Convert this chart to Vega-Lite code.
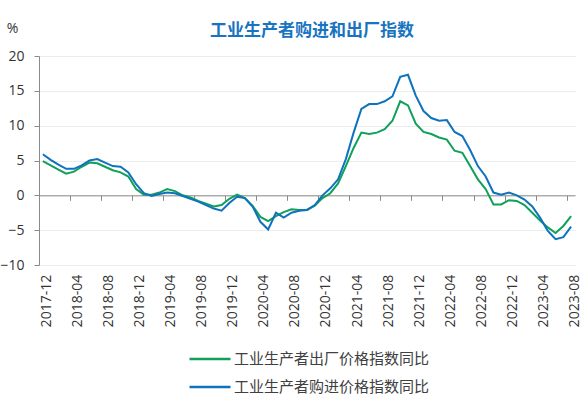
{
  "$schema": "https://vega.github.io/schema/vega-lite/v6.json",
  "width": 536,
  "height": 209,
  "autosize": {"type": "none"},
  "padding": {"left": 39, "top": 56, "right": 11, "bottom": 150},
  "background": "#ffffff",
  "title": {
    "text": "工业生产者购进和出厂指数",
    "frame": "group",
    "anchor": "middle",
    "dx": 5,
    "dy": 35,
    "offset": 16,
    "font": "Noto Sans CJK SC",
    "fontSize": 17,
    "fontWeight": "bold",
    "color": "#1874c1"
  },
  "config": {
    "view": {"stroke": null},
    "axis": {"labelFont": "Open Sans", "titleFont": "Open Sans"},
    "legend": {"labelFont": "Noto Sans CJK SC"}
  },
  "data": {
    "values": [
      {"月份": "2017-12", "工业生产者出厂价格指数同比": 4.9, "工业生产者购进价格指数同比": 5.9},
      {"月份": "2018-01", "工业生产者出厂价格指数同比": 4.3, "工业生产者购进价格指数同比": 5.1},
      {"月份": "2018-02", "工业生产者出厂价格指数同比": 3.7, "工业生产者购进价格指数同比": 4.4},
      {"月份": "2018-03", "工业生产者出厂价格指数同比": 3.1, "工业生产者购进价格指数同比": 3.8},
      {"月份": "2018-04", "工业生产者出厂价格指数同比": 3.4, "工业生产者购进价格指数同比": 3.8},
      {"月份": "2018-05", "工业生产者出厂价格指数同比": 4.1, "工业生产者购进价格指数同比": 4.3},
      {"月份": "2018-06", "工业生产者出厂价格指数同比": 4.7, "工业生产者购进价格指数同比": 5.0},
      {"月份": "2018-07", "工业生产者出厂价格指数同比": 4.6, "工业生产者购进价格指数同比": 5.2},
      {"月份": "2018-08", "工业生产者出厂价格指数同比": 4.1, "工业生产者购进价格指数同比": 4.7},
      {"月份": "2018-09", "工业生产者出厂价格指数同比": 3.6, "工业生产者购进价格指数同比": 4.2},
      {"月份": "2018-10", "工业生产者出厂价格指数同比": 3.3, "工业生产者购进价格指数同比": 4.1},
      {"月份": "2018-11", "工业生产者出厂价格指数同比": 2.7, "工业生产者购进价格指数同比": 3.3},
      {"月份": "2018-12", "工业生产者出厂价格指数同比": 0.9, "工业生产者购进价格指数同比": 1.6},
      {"月份": "2019-01", "工业生产者出厂价格指数同比": 0.1, "工业生产者购进价格指数同比": 0.3},
      {"月份": "2019-02", "工业生产者出厂价格指数同比": 0.1, "工业生产者购进价格指数同比": -0.1},
      {"月份": "2019-03", "工业生产者出厂价格指数同比": 0.4, "工业生产者购进价格指数同比": 0.2},
      {"月份": "2019-04", "工业生产者出厂价格指数同比": 0.9, "工业生产者购进价格指数同比": 0.4},
      {"月份": "2019-05", "工业生产者出厂价格指数同比": 0.6, "工业生产者购进价格指数同比": 0.3},
      {"月份": "2019-06", "工业生产者出厂价格指数同比": 0.0, "工业生产者购进价格指数同比": -0.1},
      {"月份": "2019-07", "工业生产者出厂价格指数同比": -0.3, "工业生产者购进价格指数同比": -0.5},
      {"月份": "2019-08", "工业生产者出厂价格指数同比": -0.8, "工业生产者购进价格指数同比": -0.9},
      {"月份": "2019-09", "工业生产者出厂价格指数同比": -1.2, "工业生产者购进价格指数同比": -1.4},
      {"月份": "2019-10", "工业生产者出厂价格指数同比": -1.6, "工业生产者购进价格指数同比": -1.9},
      {"月份": "2019-11", "工业生产者出厂价格指数同比": -1.4, "工业生产者购进价格指数同比": -2.2},
      {"月份": "2019-12", "工业生产者出厂价格指数同比": -0.5, "工业生产者购进价格指数同比": -1.1},
      {"月份": "2020-01", "工业生产者出厂价格指数同比": 0.1, "工业生产者购进价格指数同比": -0.2},
      {"月份": "2020-02", "工业生产者出厂价格指数同比": -0.4, "工业生产者购进价格指数同比": -0.4},
      {"月份": "2020-03", "工业生产者出厂价格指数同比": -1.5, "工业生产者购进价格指数同比": -1.6},
      {"月份": "2020-04", "工业生产者出厂价格指数同比": -3.1, "工业生产者购进价格指数同比": -3.8},
      {"月份": "2020-05", "工业生产者出厂价格指数同比": -3.7, "工业生产者购进价格指数同比": -4.9},
      {"月份": "2020-06", "工业生产者出厂价格指数同比": -3.0, "工业生产者购进价格指数同比": -2.5},
      {"月份": "2020-07", "工业生产者出厂价格指数同比": -2.4, "工业生产者购进价格指数同比": -3.2},
      {"月份": "2020-08", "工业生产者出厂价格指数同比": -2.0, "工业生产者购进价格指数同比": -2.5},
      {"月份": "2020-09", "工业生产者出厂价格指数同比": -2.1, "工业生产者购进价格指数同比": -2.2},
      {"月份": "2020-10", "工业生产者出厂价格指数同比": -2.1, "工业生产者购进价格指数同比": -2.1},
      {"月份": "2020-11", "工业生产者出厂价格指数同比": -1.5, "工业生产者购进价格指数同比": -1.4},
      {"月份": "2020-12", "工业生产者出厂价格指数同比": -0.4, "工业生产者购进价格指数同比": 0.0},
      {"月份": "2021-01", "工业生产者出厂价格指数同比": 0.3, "工业生产者购进价格指数同比": 1.0},
      {"月份": "2021-02", "工业生产者出厂价格指数同比": 1.7, "工业生产者购进价格指数同比": 2.3},
      {"月份": "2021-03", "工业生产者出厂价格指数同比": 4.2, "工业生产者购进价格指数同比": 5.2},
      {"月份": "2021-04", "工业生产者出厂价格指数同比": 6.8, "工业生产者购进价格指数同比": 9.0},
      {"月份": "2021-05", "工业生产者出厂价格指数同比": 9.0, "工业生产者购进价格指数同比": 12.4},
      {"月份": "2021-06", "工业生产者出厂价格指数同比": 8.8, "工业生产者购进价格指数同比": 13.1},
      {"月份": "2021-07", "工业生产者出厂价格指数同比": 9.0, "工业生产者购进价格指数同比": 13.1},
      {"月份": "2021-08", "工业生产者出厂价格指数同比": 9.5, "工业生产者购进价格指数同比": 13.5},
      {"月份": "2021-09", "工业生产者出厂价格指数同比": 10.7, "工业生产者购进价格指数同比": 14.2},
      {"月份": "2021-10", "工业生产者出厂价格指数同比": 13.5, "工业生产者购进价格指数同比": 17.0},
      {"月份": "2021-11", "工业生产者出厂价格指数同比": 12.9, "工业生产者购进价格指数同比": 17.3},
      {"月份": "2021-12", "工业生产者出厂价格指数同比": 10.3, "工业生产者购进价格指数同比": 14.3},
      {"月份": "2022-01", "工业生产者出厂价格指数同比": 9.1, "工业生产者购进价格指数同比": 12.1},
      {"月份": "2022-02", "工业生产者出厂价格指数同比": 8.8, "工业生产者购进价格指数同比": 11.1},
      {"月份": "2022-03", "工业生产者出厂价格指数同比": 8.3, "工业生产者购进价格指数同比": 10.7},
      {"月份": "2022-04", "工业生产者出厂价格指数同比": 8.0, "工业生产者购进价格指数同比": 10.8},
      {"月份": "2022-05", "工业生产者出厂价格指数同比": 6.4, "工业生产者购进价格指数同比": 9.1},
      {"月份": "2022-06", "工业生产者出厂价格指数同比": 6.1, "工业生产者购进价格指数同比": 8.5},
      {"月份": "2022-07", "工业生产者出厂价格指数同比": 4.2, "工业生产者购进价格指数同比": 6.5},
      {"月份": "2022-08", "工业生产者出厂价格指数同比": 2.3, "工业生产者购进价格指数同比": 4.2},
      {"月份": "2022-09", "工业生产者出厂价格指数同比": 0.9, "工业生产者购进价格指数同比": 2.7},
      {"月份": "2022-10", "工业生产者出厂价格指数同比": -1.3, "工业生产者购进价格指数同比": 0.4},
      {"月份": "2022-11", "工业生产者出厂价格指数同比": -1.3, "工业生产者购进价格指数同比": 0.1},
      {"月份": "2022-12", "工业生产者出厂价格指数同比": -0.7, "工业生产者购进价格指数同比": 0.4},
      {"月份": "2023-01", "工业生产者出厂价格指数同比": -0.8, "工业生产者购进价格指数同比": 0.0},
      {"月份": "2023-02", "工业生产者出厂价格指数同比": -1.4, "工业生产者购进价格指数同比": -0.6},
      {"月份": "2023-03", "工业生产者出厂价格指数同比": -2.5, "工业生产者购进价格指数同比": -1.6},
      {"月份": "2023-04", "工业生产者出厂价格指数同比": -3.6, "工业生产者购进价格指数同比": -3.2},
      {"月份": "2023-05", "工业生产者出厂价格指数同比": -4.6, "工业生产者购进价格指数同比": -5.1},
      {"月份": "2023-06", "工业生产者出厂价格指数同比": -5.4, "工业生产者购进价格指数同比": -6.3},
      {"月份": "2023-07", "工业生产者出厂价格指数同比": -4.4, "工业生产者购进价格指数同比": -6.0},
      {"月份": "2023-08", "工业生产者出厂价格指数同比": -3.0, "工业生产者购进价格指数同比": -4.5}
    ]
  },
  "transform": [
    {"fold": ["工业生产者出厂价格指数同比", "工业生产者购进价格指数同比"], "as": ["指标", "同比"]}
  ],
  "mark": {"type": "line", "strokeWidth": 2},
  "encoding": {
    "x": {
      "field": "月份",
      "type": "ordinal",
      "bandPosition": 0.5,
      "scale": {"type": "band", "paddingInner": 0, "paddingOuter": 0},
      "axis": {
        "title": null,
        "values": ["2017-12", "2018-04", "2018-08", "2018-12", "2019-04", "2019-08", "2019-12", "2020-04", "2020-08", "2020-12", "2021-04", "2021-08", "2021-12", "2022-04", "2022-08", "2022-12", "2023-04", "2023-08"],
        "offset": -69.67,
        "bandPosition": 0,
        "labelOffset": 3.9,
        "labelAngle": -90,
        "labelPadding": 74,
        "labelFontSize": 14,
        "labelColor": "#333333",
        "domainColor": "#8a8a8a",
        "tickColor": "#8a8a8a",
        "tickSize": 5,
        "grid": false
      }
    },
    "y": {
      "field": "同比",
      "type": "quantitative",
      "scale": {"domain": [-10, 20], "nice": false, "zero": false},
      "axis": {
        "title": "%",
        "titleAngle": 0,
        "titleX": -27,
        "titleY": -28,
        "titleAlign": "center",
        "titleBaseline": "middle",
        "titleFontSize": 14,
        "titleFontWeight": "normal",
        "titleColor": "#333333",
        "values": [-10, -5, 0, 5, 10, 15, 20],
        "labelFontSize": 14,
        "labelColor": "#333333",
        "labelPadding": 10,
        "tickSize": 5,
        "tickColor": "#8a8a8a",
        "domainColor": "#8a8a8a",
        "grid": true,
        "gridColor": "#ececec"
      }
    },
    "color": {
      "field": "指标",
      "type": "nominal",
      "scale": {
        "domain": ["工业生产者出厂价格指数同比", "工业生产者购进价格指数同比"],
        "range": ["#10a05a", "#0f72bd"]
      },
      "legend": {
        "title": null,
        "orient": "none",
        "direction": "vertical",
        "legendX": 149,
        "legendY": 295,
        "symbolType": "stroke",
        "symbolSize": 1681,
        "symbolStrokeWidth": 2.5,
        "clipHeight": 16,
        "rowPadding": 12,
        "labelOffset": 2,
        "labelLimit": 320,
        "labelFontSize": 15,
        "labelColor": "#404040"
      }
    }
  }
}
